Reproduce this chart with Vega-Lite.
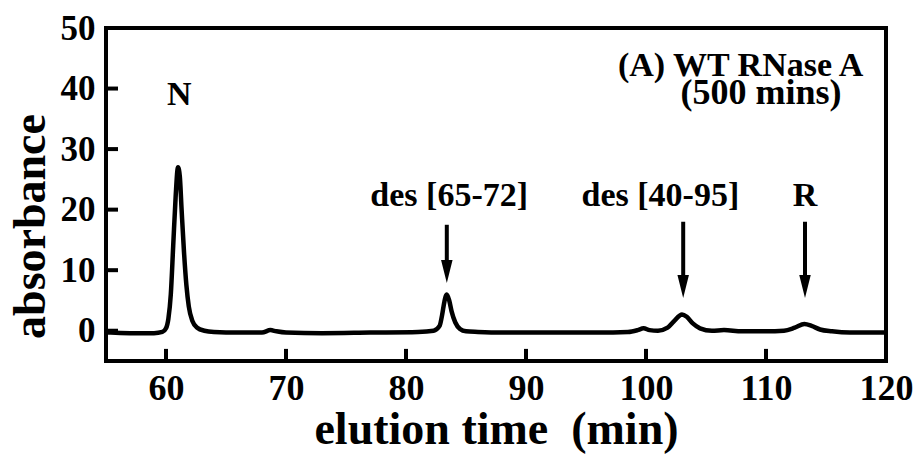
{
  "$schema": "https://vega.github.io/schema/vega-lite/v6.json",
  "width": 780,
  "height": 333,
  "autosize": {"type": "none"},
  "padding": {"left": 106, "top": 28, "right": 35, "bottom": 93},
  "background": "white",
  "config": {
    "view": {"stroke": "black", "strokeWidth": 4},
    "font": "Liberation Serif",
    "axis": {
      "grid": false,
      "domain": false,
      "ticks": true,
      "tickSize": 0,
      "tickOpacity": 0,
      "labelFont": "Liberation Serif",
      "labelFontWeight": "bold",
      "labelColor": "black",
      "labelFlush": false,
      "labelOverlap": false,
      "titleFont": "Liberation Serif",
      "titleFontWeight": "bold",
      "titleColor": "black"
    }
  },
  "datasets": {
    "trace": [
      {"t": 55, "a": -0.2}, {"t": 55.4, "a": -0.3}, {"t": 57, "a": -0.4}, {"t": 59, "a": -0.4},
      {"t": 59.7, "a": -0.2}, {"t": 60.0, "a": 0.4}, {"t": 60.2, "a": 2}, {"t": 60.4, "a": 6},
      {"t": 60.6, "a": 14}, {"t": 60.8, "a": 22}, {"t": 61.0, "a": 27.0}, {"t": 61.15, "a": 25.5},
      {"t": 61.3, "a": 20}, {"t": 61.5, "a": 13}, {"t": 61.7, "a": 7.5}, {"t": 61.9, "a": 4},
      {"t": 62.2, "a": 1.6}, {"t": 62.6, "a": 0.5}, {"t": 63.2, "a": 0}, {"t": 64, "a": -0.2},
      {"t": 66, "a": -0.3}, {"t": 68, "a": -0.3}, {"t": 68.7, "a": 0.1}, {"t": 69.2, "a": -0.1},
      {"t": 70, "a": -0.3}, {"t": 73, "a": -0.4}, {"t": 77, "a": -0.3}, {"t": 81, "a": -0.2},
      {"t": 82.3, "a": 0}, {"t": 82.8, "a": 0.8}, {"t": 83.0, "a": 2.5}, {"t": 83.2, "a": 4.8},
      {"t": 83.4, "a": 6.0}, {"t": 83.6, "a": 5.0}, {"t": 83.8, "a": 3.2}, {"t": 84.1, "a": 1.4},
      {"t": 84.5, "a": 0.3}, {"t": 85, "a": -0.1}, {"t": 86, "a": -0.2}, {"t": 88, "a": -0.3},
      {"t": 92, "a": -0.3}, {"t": 96, "a": -0.3}, {"t": 98.5, "a": -0.2}, {"t": 99.3, "a": 0.1},
      {"t": 99.8, "a": 0.4}, {"t": 100.3, "a": 0.1}, {"t": 101, "a": 0.0}, {"t": 101.8, "a": 0.5},
      {"t": 102.3, "a": 1.5}, {"t": 102.8, "a": 2.5}, {"t": 103.0, "a": 2.7}, {"t": 103.4, "a": 2.3},
      {"t": 103.9, "a": 1.2}, {"t": 104.5, "a": 0.4}, {"t": 105.5, "a": 0.0}, {"t": 106.5, "a": 0.1},
      {"t": 108, "a": -0.1}, {"t": 110, "a": -0.1}, {"t": 111.5, "a": 0.0}, {"t": 112.4, "a": 0.5},
      {"t": 113.2, "a": 1.1}, {"t": 113.8, "a": 0.8}, {"t": 114.5, "a": 0.2}, {"t": 115.5, "a": -0.1},
      {"t": 117, "a": -0.3}, {"t": 120, "a": -0.3}
    ],
    "xticks": [
      {"v": 60, "lo": -5, "hi": -3.0}, {"v": 70, "lo": -5, "hi": -3.0}, {"v": 80, "lo": -5, "hi": -3.0},
      {"v": 90, "lo": -5, "hi": -3.0}, {"v": 100, "lo": -5, "hi": -3.0}, {"v": 110, "lo": -5, "hi": -3.0}
    ],
    "yticks": [
      {"v": 0, "lo": 55, "hi": 56.0}, {"v": 10, "lo": 55, "hi": 56.0}, {"v": 20, "lo": 55, "hi": 56.0},
      {"v": 30, "lo": 55, "hi": 56.0}, {"v": 40, "lo": 55, "hi": 56.0}
    ],
    "arrows": [
      {"x": 83.4, "top": 17.5, "head": 9.8},
      {"x": 103.1, "top": 18.0, "head": 7.3},
      {"x": 113.25, "top": 18.0, "head": 7.3}
    ],
    "labels": [
      {"x": 61.1, "y": 37.3, "label": "N"},
      {"x": 83.6, "y": 20.6, "label": "des [65-72]"},
      {"x": 101.2, "y": 20.6, "label": "des [40-95]"},
      {"x": 113.25, "y": 20.6, "label": "R"}
    ],
    "panel1": [
      {"x": 118.1, "y": 42.1, "label": "(A) WT RNase A"}
    ],
    "panel2": [
      {"x": 116.3, "y": 37.5, "label": "(500 mins)"}
    ]
  },
  "encoding": {
    "x": {
      "type": "quantitative",
      "scale": {"domain": [55, 120], "nice": false, "zero": false},
      "axis": {
        "title": "elution time\u2002(min)",
        "values": [60, 70, 80, 90, 100, 110, 120],
        "labelPadding": 38,
        "labelBaseline": "alphabetic",
        "labelFontSize": 36,
        "titleFontSize": 46,
        "titleBaseline": "alphabetic",
        "titleY": 82
      }
    },
    "y": {
      "type": "quantitative",
      "scale": {"domain": [-5, 50], "nice": false, "zero": false},
      "axis": {
        "title": "absorbance",
        "values": [0, 10, 20, 30, 40, 50],
        "labelPadding": 11,
        "labelFontSize": 35,
        "titleFontSize": 46,
        "titleBaseline": "alphabetic",
        "titleAlign": "center",
        "titleAngle": -90,
        "titleX": -62,
        "titleY": 198
      }
    }
  },
  "layer": [
    {
      "data": {"name": "trace"},
      "mark": {"type": "line", "color": "black", "strokeWidth": 4.5, "interpolate": "monotone", "strokeJoin": "round"},
      "encoding": {"x": {"field": "t"}, "y": {"field": "a"}}
    },
    {
      "data": {"name": "arrows"},
      "mark": {"type": "rule", "color": "black", "strokeWidth": 4},
      "encoding": {"x": {"field": "x"}, "y": {"field": "top"}, "y2": {"field": "head"}}
    },
    {
      "data": {"name": "arrows"},
      "mark": {"type": "point", "shape": "M-0.5,-1L0.5,-1L0,1Z", "filled": true, "color": "black", "opacity": 1, "size": 529},
      "encoding": {"x": {"field": "x"}, "y": {"field": "head"}}
    },
    {
      "data": {"name": "labels"},
      "mark": {"type": "text", "font": "Liberation Serif", "fontWeight": "bold", "fontSize": 34, "color": "black", "align": "center", "baseline": "alphabetic"},
      "encoding": {"x": {"field": "x"}, "y": {"field": "y"}, "text": {"field": "label"}}
    },
    {
      "data": {"name": "panel1"},
      "mark": {"type": "text", "font": "Liberation Serif", "fontWeight": "bold", "fontSize": 34, "color": "black", "align": "right", "baseline": "alphabetic"},
      "encoding": {"x": {"field": "x"}, "y": {"field": "y"}, "text": {"field": "label"}}
    },
    {
      "data": {"name": "panel2"},
      "mark": {"type": "text", "font": "Liberation Serif", "fontWeight": "bold", "fontSize": 36, "color": "black", "align": "right", "baseline": "alphabetic"},
      "encoding": {"x": {"field": "x"}, "y": {"field": "y"}, "text": {"field": "label"}}
    },
    {
      "data": {"name": "xticks"},
      "mark": {"type": "rule", "color": "black", "strokeWidth": 4},
      "encoding": {"x": {"field": "v"}, "y": {"field": "lo"}, "y2": {"field": "hi"}}
    },
    {
      "data": {"name": "yticks"},
      "mark": {"type": "rule", "color": "black", "strokeWidth": 4},
      "encoding": {"y": {"field": "v"}, "x": {"field": "lo"}, "x2": {"field": "hi"}}
    }
  ]
}
